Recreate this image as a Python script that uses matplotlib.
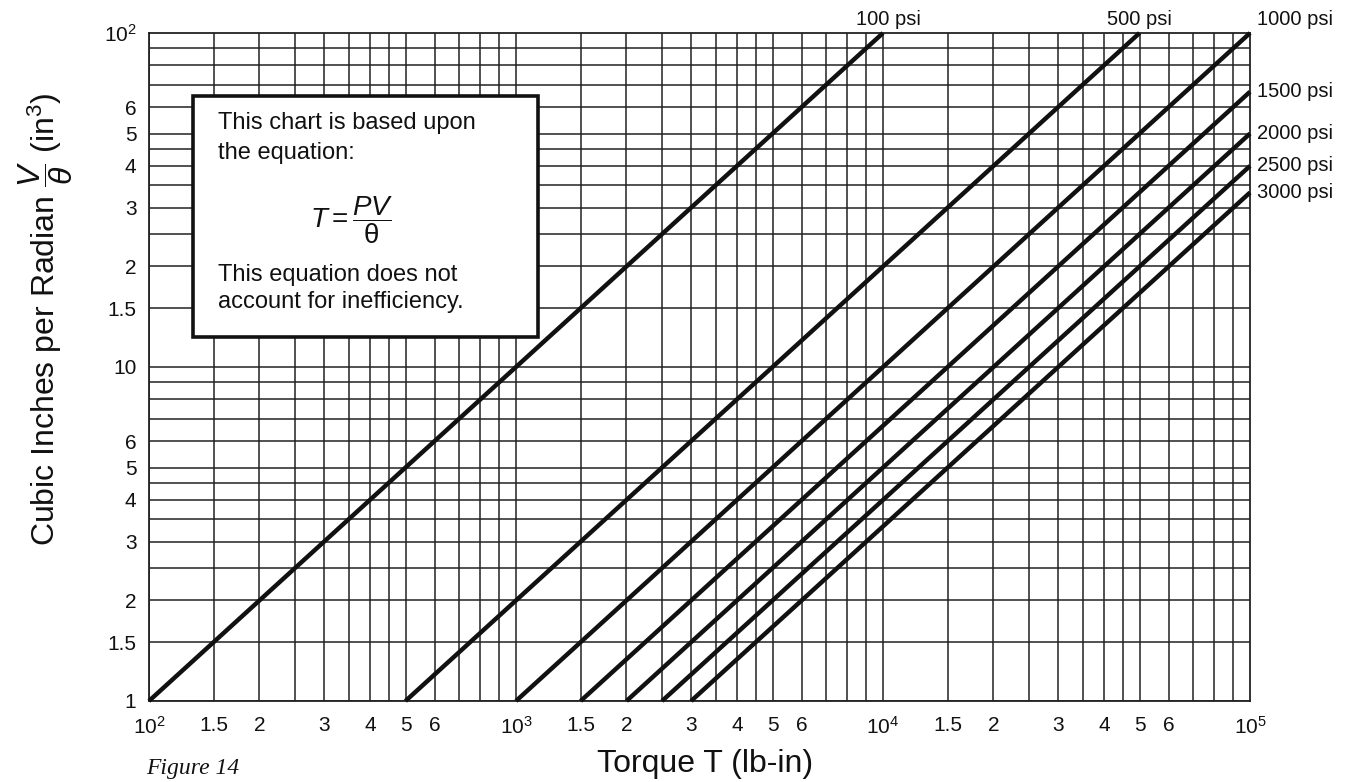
import numpy as np
import matplotlib.pyplot as plt
from matplotlib.patches import Rectangle

plt.rcParams["font.family"] = ["Liberation Sans", "DejaVu Sans"]
plt.rcParams["mathtext.fontset"] = "custom"
plt.rcParams["mathtext.rm"] = "Liberation Sans"
plt.rcParams["mathtext.it"] = "Liberation Sans:italic"

# Pressure lines: each starts at V = 1 and runs to the chart edge
pressures = [100, 500, 1000, 1500, 2000, 2500, 3000]
labels = ["100 psi", "500 psi", "1000 psi", "1500 psi", "2000 psi", "2500 psi", "3000 psi"]
torque_start = [100, 500, 1000, 1500, 2000, 2500, 3000]
vol_start = [1, 1, 1, 1, 1, 1, 1]
torque_end = [10000, 50000, 100000, 100000, 100000, 100000, 100000]
vol_end = [100, 100, 100, 66.7, 50, 40, 33.3]

# grid positions inside each decade
grid_mult = [1, 1.5, 2, 2.5, 3, 3.5, 4, 4.5, 5, 6, 7, 8, 9]
xtick_mult = [1, 1.5, 2, 3, 4, 5, 6]
ytick_mult = [1, 1.5, 2, 3, 4, 5, 6]

ink = "#111111"

fig = plt.figure(figsize=(13.53, 7.82), dpi=100)
ax = fig.add_axes([0.1101, 0.1036, 0.8138, 0.8542])
ax.set_xscale("log")
ax.set_yscale("log")
ax.set_xlim(100, 100000)
ax.set_ylim(1, 100)

# grid
for d in [100, 1000, 10000]:
    for m in grid_mult:
        ax.axvline(d * m, color="#222222", lw=1.1, zorder=1)
for d in [1, 10]:
    for m in grid_mult:
        ax.axhline(d * m, color="#222222", lw=1.1, zorder=1)

for sp in ax.spines.values():
    sp.set_linewidth(1.3)
    sp.set_color("#222222")

# pressure lines
for i in range(len(pressures)):
    ax.plot([torque_start[i], torque_end[i]], [vol_start[i], vol_end[i]],
            color=ink, lw=3.2, solid_capstyle="butt", zorder=3, clip_on=False)

# psi labels
ax.annotate(labels[0], (torque_end[0], 100), xytext=(4, 3), textcoords="offset points",
            ha="center", va="bottom", fontsize=14.5, color=ink, annotation_clip=False)
ax.annotate(labels[1], (torque_end[1], 100), xytext=(0, 3), textcoords="offset points",
            ha="center", va="bottom", fontsize=14.5, color=ink, annotation_clip=False)
ax.annotate(labels[2], (torque_end[2], 100), xytext=(5, 3), textcoords="offset points",
            ha="left", va="bottom", fontsize=14.5, color=ink, annotation_clip=False)
for i in range(3, len(pressures)):
    ax.annotate(labels[i], (torque_end[i], vol_end[i]), xytext=(5, 0),
                textcoords="offset points", ha="left", va="center", fontsize=14.5,
                color=ink, annotation_clip=False)

# ticks
xticks, xlabels = [], []
for k, d in enumerate([100, 1000, 10000]):
    for m in xtick_mult:
        xticks.append(d * m)
        xlabels.append(r"$\mathregular{10^{%d}}$" % (k + 2) if m == 1 else ("%g" % m))
xticks.append(100000)
xlabels.append(r"$\mathregular{10^{5}}$")
ax.set_xticks(xticks)
ax.set_xticklabels(xlabels)
ax.xaxis.set_minor_locator(plt.NullLocator())

yticks, ylabels = [], []
for d in [1, 10]:
    for m in ytick_mult:
        yticks.append(d * m)
        if m == 1:
            ylabels.append("1" if d == 1 else "10")
        else:
            ylabels.append("%g" % m)
yticks.append(100)
ylabels.append(r"$\mathregular{10^{2}}$")
ax.set_yticks(yticks)
ax.set_yticklabels(ylabels)
ax.yaxis.set_minor_locator(plt.NullLocator())
ax.tick_params(length=0, labelsize=15, colors=ink)
ax.tick_params(axis="x", pad=11)
ax.tick_params(axis="y", pad=9)

fig.text(0.521, 0.023, "Torque T (lb-in)", fontsize=23, color=ink, ha="center", va="center")
fig.text(0.034, 0.592, r"Cubic Inches per Radian $\dfrac{V}{\theta}$ (in$^3$)",
         rotation=90, ha="center", va="center", fontsize=23, color=ink)

# equation box
box = Rectangle((0.040, 0.545), 0.313, 0.361, transform=ax.transAxes,
                facecolor="white", edgecolor=ink, lw=2.6, zorder=5)
ax.add_patch(box)
tx = 0.063
ax.text(tx, 0.865, "This chart is based upon", transform=ax.transAxes, fontsize=17,
        va="center", zorder=6, color=ink)
ax.text(tx, 0.82, "the equation:", transform=ax.transAxes, fontsize=17,
        va="center", zorder=6, color=ink)
ax.text(0.184, 0.72, r"$T = \dfrac{PV}{\mathrm{\theta}}$", transform=ax.transAxes,
        fontsize=20, ha="center", va="center", zorder=6, color=ink)
ax.text(tx, 0.637, "This equation does not", transform=ax.transAxes, fontsize=17,
        va="center", zorder=6, color=ink)
ax.text(tx, 0.597, "account for inefficiency.", transform=ax.transAxes, fontsize=17,
        va="center", zorder=6, color=ink)

fig.text(0.108, 0.017, "Figure 14", fontsize=17, style="italic", va="center",
         family="Liberation Serif", color=ink)

fig.savefig("out.png", dpi=100)
